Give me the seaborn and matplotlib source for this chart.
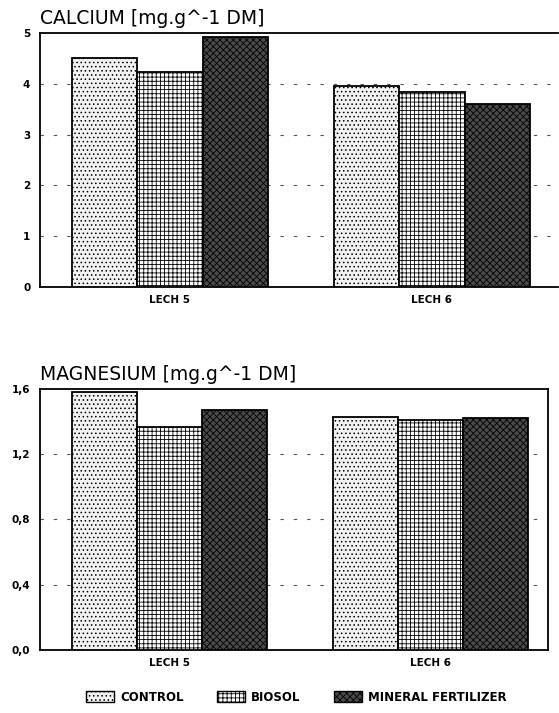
import numpy as np
import pandas as pd
import matplotlib
matplotlib.use("Agg")
import matplotlib.pyplot as plt
import seaborn as sns
from matplotlib.patches import Patch

# Data
sites = ["LECH 5", "LECH 6"]
treatments = ["CONTROL", "BIOSOL", "MINERAL FERTILIZER"]
calcium = {"CONTROL": [4.5, 3.95], "BIOSOL": [4.23, 3.84], "MINERAL FERTILIZER": [4.93, 3.6]}
magnesium = {"CONTROL": [1.58, 1.43], "BIOSOL": [1.37, 1.41], "MINERAL FERTILIZER": [1.47, 1.42]}
ca_ticks = [0, 1, 2, 3, 4, 5]
mg_ticks = [0.0, 0.4, 0.8, 1.2, 1.6]

sns.set_style("white")
plt.rcParams["font.family"] = ["DejaVu Sans"]
plt.rcParams["hatch.linewidth"] = 0.6
plt.rcParams["text.color"] = "black"
plt.rcParams["xtick.color"] = "black"
plt.rcParams["ytick.color"] = "black"

colors = ["#f2f2f2", "#ffffff", "#4a4a4a"]
hatches = ["....", "++++", "xxxxx"]


def to_long(values):
    rows = []
    for t in treatments:
        for s, v in zip(sites, values[t]):
            rows.append({"site": s, "treatment": t, "value": v})
    return pd.DataFrame(rows)


def draw_panel(ax, values, ticks, title, fmt, xright):
    df = to_long(values)
    sns.barplot(data=df, x="site", y="value", hue="treatment", hue_order=treatments,
                palette=colors, width=0.75, edgecolor="black", linewidth=1.3,
                saturation=1, legend=False, ax=ax, zorder=3)
    for container, h in zip(ax.containers, hatches):
        for bar in container:
            bar.set_hatch(h)
    ax.set_xlim(-0.496, xright)
    ax.set_ylim(ticks[0], ticks[-1])
    ax.set_yticks(ticks)
    ax.set_yticklabels([fmt(t) for t in ticks], fontweight="bold", fontsize=7.5)
    ax.set_xticks([0, 1])
    ax.set_xticklabels(sites, fontweight="bold", fontsize=7.5)
    ax.tick_params(axis="y", direction="in", length=5, width=1, pad=7)
    ax.tick_params(axis="x", length=0, pad=6)
    for t in ticks[1:-1]:
        ax.axhline(t, color="#555555", lw=0.8, ls=(0, (3, 9)), zorder=1)
    ax.set_xlabel("")
    ax.set_ylabel("")
    for side in ["left", "bottom", "top", "right"]:
        ax.spines[side].set_linewidth(1.3)
        ax.spines[side].set_color("black")
    ax.text(0.0, 1.02, title, transform=ax.transAxes, fontsize=13.5, ha="left", va="bottom")


fig = plt.figure(figsize=(5.59, 7.13), dpi=100)
ax1 = fig.add_axes([0.0716, 0.5975, 0.926, 0.3562])
ax2 = fig.add_axes([0.0716, 0.0884, 0.9088, 0.3660])

draw_panel(ax1, calcium, ca_ticks, "CALCIUM [mg.g^-1 DM]", lambda t: f"{t:d}", 1.48)
ax1.spines["right"].set_visible(False)
draw_panel(ax2, magnesium, mg_ticks, "MAGNESIUM [mg.g^-1 DM]",
           lambda t: f"{t:.1f}".replace(".", ","), 1.45)

handles = [Patch(facecolor=c, edgecolor="black", hatch=h, label=t)
           for c, h, t in zip(colors, hatches, treatments)]
fig.legend(handles=handles, loc="center", bbox_to_anchor=(0.53, 0.022), ncol=3,
           frameon=False, prop={"weight": "bold", "size": 8.5}, handlelength=2.4,
           handleheight=1.1, columnspacing=2.8, handletextpad=0.5)

fig.savefig("out.png", dpi=100)
